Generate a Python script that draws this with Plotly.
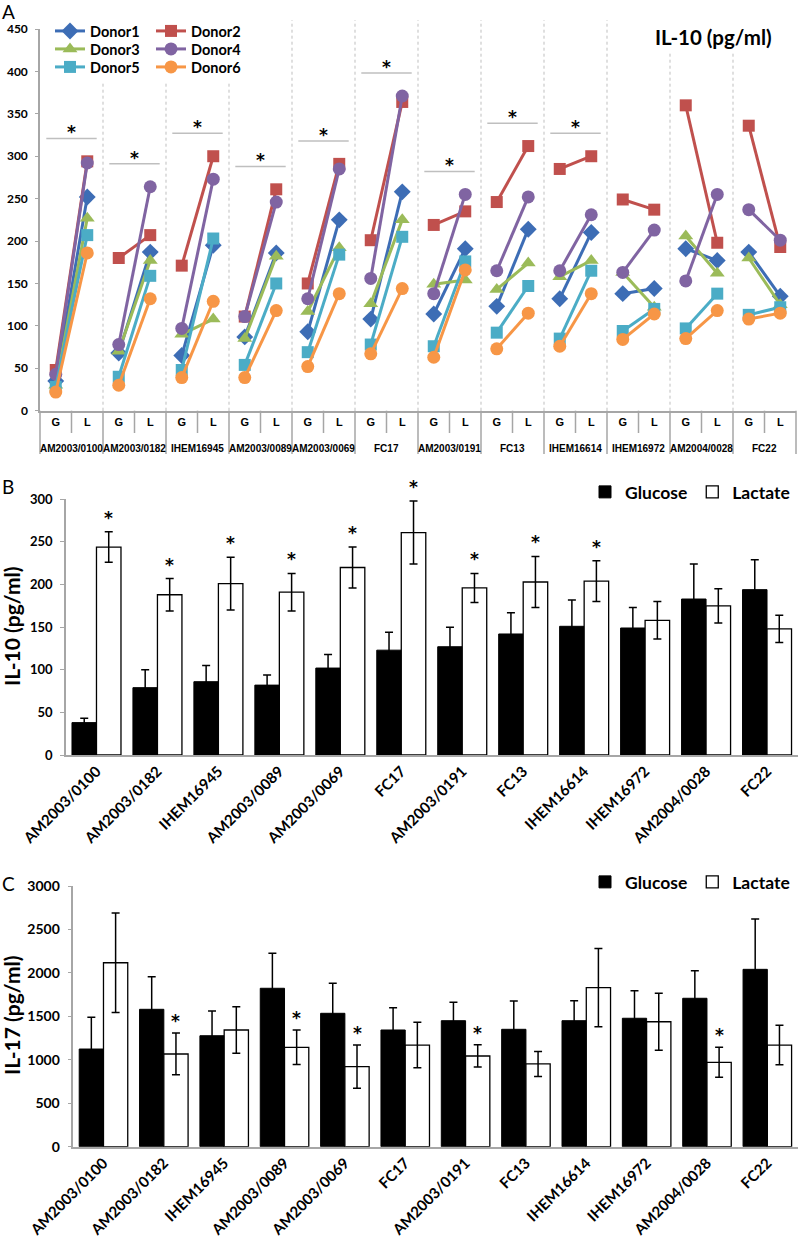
import plotly.graph_objects as go

# ---------------- data ----------------
strains = ["AM2003/0100", "AM2003/0182", "IHEM16945", "AM2003/0089", "AM2003/0069", "FC17",
           "AM2003/0191", "FC13", "IHEM16614", "IHEM16972", "AM2004/0028", "FC22"]
conditions = ["G", "L"]
donor_names = ["Donor1", "Donor2", "Donor3", "Donor4", "Donor5", "Donor6"]

# Panel A: IL-10 per donor (G = glucose, L = lactate)
donor1_G = [35, 68, 65, 87, 93, 108, 114, 123, 132, 138, 191, 187]
donor1_L = [252, 187, 195, 186, 225, 258, 191, 214, 210, 144, 177, 135]
donor2_G = [48, 180, 171, 111, 150, 201, 219, 246, 285, 249, 360, 336]
donor2_L = [294, 207, 300, 261, 291, 364, 235, 312, 300, 237, 198, 193]
donor3_G = [30, 70, 90, 85, 117, 126, 149, 143, 158, 163, 206, 180]
donor3_L = [227, 177, 108, 182, 192, 225, 154, 174, 177, 122, 162, 125]
donor4_G = [43, 78, 97, 111, 132, 156, 138, 165, 165, 163, 153, 237]
donor4_L = [292, 264, 273, 246, 285, 371, 255, 252, 231, 213, 255, 201]
donor5_G = [28, 40, 48, 54, 69, 78, 76, 92, 85, 94, 97, 113]
donor5_L = [207, 159, 203, 150, 184, 205, 176, 147, 165, 120, 138, 122]
donor6_G = [22, 30, 39, 39, 52, 67, 63, 73, 76, 84, 85, 108]
donor6_L = [186, 132, 129, 118, 138, 144, 166, 115, 138, 114, 118, 115]
sig_A = [0, 1, 2, 3, 4, 5, 6, 7, 8]

# Panel B: IL-10 means
il10_glucose = [38, 79, 86, 82, 102, 123, 127, 142, 151, 149, 183, 194]
il10_glucose_err = [5, 21, 19, 12, 16, 21, 23, 25, 31, 24, 41, 35]
il10_lactate = [244, 188, 201, 191, 220, 261, 196, 203, 204, 158, 175, 148]
il10_lactate_err = [18, 19, 31, 22, 24, 37, 17, 30, 24, 22, 20, 16]
sig_B = [0, 1, 2, 3, 4, 5, 6, 7, 8]

# Panel C: IL-17 means
il17_glucose = [1124, 1581, 1277, 1823, 1535, 1343, 1450, 1351, 1450, 1478, 1708, 2041]
il17_glucose_err = [365, 375, 285, 403, 345, 257, 212, 326, 230, 317, 317, 579]
il17_lactate = [2117, 1067, 1343, 1144, 921, 1170, 1044, 952, 1830, 1438, 971, 1170]
il17_lactate_err = [572, 240, 268, 199, 249, 262, 128, 143, 451, 327, 172, 228]
sig_C = [1, 3, 4, 6, 10]

# ---------------- helpers ----------------
W, H = 800, 1241
def px(x):
    return x / W
def py(y):
    return 1 - y / H

FONT = "Lato, Carlito, Calibri, 'Open Sans', sans-serif"
ARIAL = "'Liberation Sans', Arial, sans-serif"
STAR = "'DejaVu Sans', sans-serif"
AXIS_GRAY = "#A6A6A6"
SEP_GRAY = "#BFBFBF"

fig = go.Figure()

# ---------------- Panel A ----------------
donor_G = [donor1_G, donor2_G, donor3_G, donor4_G, donor5_G, donor6_G]
donor_L = [donor1_L, donor2_L, donor3_L, donor4_L, donor5_L, donor6_L]
colors = ["#3D6DB5", "#C0504D", "#9BBB59", "#8064A2", "#4BACC6", "#F79646"]
symbols = ["diamond", "square", "triangle-up", "circle", "square", "circle"]
sizes = [13, 12, 13, 13, 12, 13]
legends = ["legend", "legend", "legend2", "legend2", "legend3", "legend3"]

for k in range(6):
    xs, ys = [], []
    for i in range(len(strains)):
        xs += [2 * i, 2 * i + 1, None]
        ys += [donor_G[k][i], donor_L[k][i], None]
    fig.add_trace(go.Scatter(
        x=xs, y=ys, mode="lines+markers", name=donor_names[k],
        line=dict(color=colors[k], width=3),
        marker=dict(symbol=symbols[k], size=sizes[k], color=colors[k]),
        legend=legends[k], xaxis="x", yaxis="y", cliponaxis=False,
        connectgaps=False,
    ))

# ---------------- Panel B ----------------
xb = list(range(len(strains)))
fig.add_trace(go.Bar(
    x=xb, y=il10_glucose, name="Glucose", legend="legend4",
    marker=dict(color="black", line=dict(color="black", width=1)),
    error_y=dict(type="data", array=il10_glucose_err, color="black", thickness=1.5, width=4),
    xaxis="x2", yaxis="y2", offsetgroup="g",
))
fig.add_trace(go.Bar(
    x=xb, y=il10_lactate, name="Lactate", legend="legend4",
    marker=dict(color="white", line=dict(color="black", width=1.3)),
    error_y=dict(type="data", array=il10_lactate_err, color="black", thickness=1.5, width=4),
    xaxis="x2", yaxis="y2", offsetgroup="l",
))

# ---------------- Panel C ----------------
fig.add_trace(go.Bar(
    x=xb, y=il17_glucose, name="Glucose", legend="legend5",
    marker=dict(color="black", line=dict(color="black", width=1)),
    error_y=dict(type="data", array=il17_glucose_err, color="black", thickness=1.5, width=4),
    xaxis="x3", yaxis="y3", offsetgroup="g",
))
fig.add_trace(go.Bar(
    x=xb, y=il17_lactate, name="Lactate", legend="legend5",
    marker=dict(color="white", line=dict(color="black", width=1.3)),
    error_y=dict(type="data", array=il17_lactate_err, color="black", thickness=1.5, width=4),
    xaxis="x3", yaxis="y3", offsetgroup="l",
))

shapes = []
annotations = []

# Panel A decorations
xA0, xA1 = 40, 796
nA = 2 * len(strains)
def a_paper(xv):
    return px(xA0 + (xv + 0.5) / nA * (xA1 - xA0))

for i in range(1, len(strains)):
    shapes.append(dict(type="line", xref="x", yref="paper", x0=2 * i - 0.5, x1=2 * i - 0.5,
                       y0=py(410.7), y1=py(20), line=dict(color=SEP_GRAY, width=1, dash="dot")))
# white boxes behind legend and title
shapes.append(dict(type="rect", xref="paper", yref="paper", x0=px(41), x1=px(247), y0=py(83), y1=py(15),
                   fillcolor="white", line=dict(width=0)))
shapes.append(dict(type="rect", xref="paper", yref="paper", x0=px(640), x1=px(800), y0=py(53), y1=py(10),
                   fillcolor="white", line=dict(width=0)))
# category dividers under the axis
for i in range(len(strains) + 1):
    xx = a_paper(2 * i - 0.5)
    shapes.append(dict(type="line", xref="paper", yref="paper", x0=xx, x1=xx, y0=py(410.7), y1=py(454),
                       line=dict(color=AXIS_GRAY, width=1.5)))
for i in range(len(strains)):
    xx = a_paper(2 * i + 0.5)
    shapes.append(dict(type="line", xref="paper", yref="paper", x0=xx, x1=xx, y0=py(410.7), y1=py(433),
                       line=dict(color=AXIS_GRAY, width=1.5)))
    annotations.append(dict(xref="x", yref="paper", x=2 * i + 0.5, y=py(448), text=strains[i],
                            showarrow=False, font=dict(family=ARIAL, size=10, color="black", weight="bold"),
                            yanchor="middle"))
# significance bars in A
for i in sig_A:
    top = max(donor_G[k][i] for k in range(6))
    top = max(top, max(donor_L[k][i] for k in range(6))) + 27
    shapes.append(dict(type="line", xref="x", yref="y", x0=2 * i + 0.5 - 0.8, x1=2 * i + 0.5 + 0.8,
                       y0=top, y1=top, line=dict(color=SEP_GRAY, width=1.5)))
    annotations.append(dict(xref="x", yref="y", x=2 * i + 0.5, y=top, text="*", showarrow=False,
                            yanchor="bottom", yshift=-6, font=dict(family=STAR, size=17, color="black", weight="bold")))

annotations.append(dict(xref="paper", yref="paper", x=px(713), y=py(37), text="IL-10 (pg/ml)", showarrow=False,
                        yanchor="middle", xanchor="center",
                        font=dict(family=FONT, size=20.5, color="black", weight="bold")))

# stars in B and C
half = (1 - 0.196) / 4
for i in sig_B:
    annotations.append(dict(xref="x2", yref="y2", x=i + half, y=il10_lactate[i] + il10_lactate_err[i], text="*",
                            showarrow=False, yanchor="bottom", yshift=2,
                            font=dict(family=STAR, size=17, color="black", weight="bold")))
for i in sig_C:
    annotations.append(dict(xref="x3", yref="y3", x=i + half, y=il17_lactate[i] + il17_lactate_err[i], text="*",
                            showarrow=False, yanchor="bottom", yshift=0,
                            font=dict(family=STAR, size=17, color="black", weight="bold")))

# y titles for B and C
annotations.append(dict(xref="paper", yref="paper", x=px(11), y=py(627), text="IL-10 (pg/ml)", textangle=-90,
                        showarrow=False, xanchor="center", yanchor="middle",
                        font=dict(family=FONT, size=21, color="black", weight="bold")))
annotations.append(dict(xref="paper", yref="paper", x=px(11), y=py(1016), text="IL-17 (pg/ml)", textangle=-90,
                        showarrow=False, xanchor="center", yanchor="middle",
                        font=dict(family=FONT, size=21, color="black", weight="bold")))
# panel letters
for letter, yy in [("A", 11), ("B", 486), ("C", 883)]:
    annotations.append(dict(xref="paper", yref="paper", x=px(0), y=py(yy), text=letter, showarrow=False,
                            xanchor="left", yanchor="middle", font=dict(family=FONT, size=19, color="black")))

tickfont = dict(family=FONT, size=12, color="black", weight="bold")
leg_font = dict(family=FONT, size=14.5, color="black", weight="bold")

common = dict(showgrid=False, zeroline=False, automargin=False, showline=True, linecolor=AXIS_GRAY, linewidth=1.5)

fig.update_layout(
    width=W, height=H, margin=dict(l=0, r=0, t=0, b=0, autoexpand=False),
    paper_bgcolor="white", plot_bgcolor="white",
    barmode="group", bargap=0.196, bargroupgap=0,
    shapes=shapes, annotations=annotations,
    xaxis=dict(domain=[px(40), px(796)], range=[-0.5, nA - 0.5], tickvals=list(range(nA)),
               ticktext=conditions * len(strains), ticks="", anchor="y",
               tickfont=dict(family=ARIAL, size=11, color="black", weight="bold"), **common),
    yaxis=dict(domain=[py(410.7), py(29)], range=[0, 450], dtick=50, ticks="outside", ticklen=3,
               ticklabelstandoff=5, tickcolor=AXIS_GRAY, anchor="x", tickfont=tickfont, **common),
    xaxis2=dict(domain=[px(66), px(797.5)], range=[-0.5, len(strains) - 0.5], tickvals=xb, ticktext=strains,
                tickangle=-45, ticks="", anchor="y2",
                tickfont=dict(family=FONT, size=15, color="black", weight="bold"), **common),
    yaxis2=dict(domain=[py(755), py(499.3)], range=[0, 300], dtick=50, ticks="outside", ticklen=4,
                ticklabelstandoff=5, tickcolor=AXIS_GRAY, anchor="x2",
                tickfont=dict(family=FONT, size=13, color="black", weight="bold"), **common),
    xaxis3=dict(domain=[px(73.3), px(797.5)], range=[-0.5, len(strains) - 0.5], tickvals=xb, ticktext=strains,
                tickangle=-45, ticks="", anchor="y3",
                tickfont=dict(family=FONT, size=15, color="black", weight="bold"), **common),
    yaxis3=dict(domain=[py(1146.7), py(886)], range=[0, 3000], dtick=500, ticks="outside", ticklen=4,
                ticklabelstandoff=5, tickcolor=AXIS_GRAY, anchor="x3",
                tickfont=dict(family=FONT, size=14, color="black", weight="bold"), **common),
    legend=dict(x=px(50), y=py(31), xanchor="left", yanchor="middle", orientation="h", font=leg_font,
                bgcolor="rgba(0,0,0,0)", entrywidth=56, itemwidth=30, tracegroupgap=0),
    legend2=dict(x=px(50), y=py(49), xanchor="left", yanchor="middle", orientation="h", font=leg_font,
                 bgcolor="rgba(0,0,0,0)", entrywidth=56, itemwidth=30, tracegroupgap=0),
    legend3=dict(x=px(50), y=py(67), xanchor="left", yanchor="middle", orientation="h", font=leg_font,
                 bgcolor="rgba(0,0,0,0)", entrywidth=56, itemwidth=30, tracegroupgap=0),
    legend4=dict(x=px(795), y=py(492), xanchor="right", yanchor="middle", orientation="h",
                 font=dict(family=FONT, size=17.5, color="black", weight="bold"), bgcolor="rgba(0,0,0,0)"),
    legend5=dict(x=px(795), y=py(882), xanchor="right", yanchor="middle", orientation="h",
                 font=dict(family=FONT, size=17.5, color="black", weight="bold"), bgcolor="rgba(0,0,0,0)"),
)

fig.write_html("out.html", config={"displayModeBar": False},
               post_script="document.body.style.margin='0px';document.body.style.overflow='hidden';")
